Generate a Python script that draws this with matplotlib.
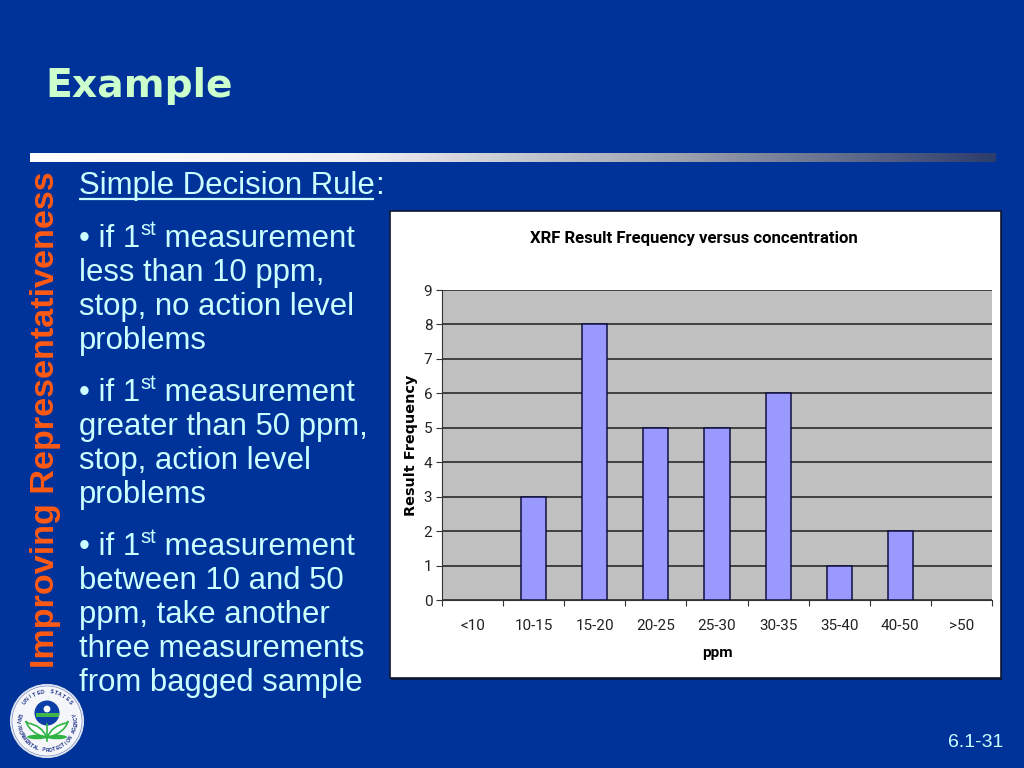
"""plot.py - slide with XRF result frequency bar chart."""

import numpy as np
import matplotlib
matplotlib.use("Agg")
import matplotlib.pyplot as plt
from matplotlib.colors import LinearSegmentedColormap
from matplotlib.patches import Circle, Ellipse, Rectangle, PathPatch
from matplotlib.path import Path

# ── chart data ─────────────────────────────────────────────────────────────────
categories = ["<10", "10-15", "15-20", "20-25", "25-30", "30-35", "35-40", "40-50", ">50"]
frequency = [0, 3, 8, 5, 5, 6, 1, 2, 0]
y_ticks = list(range(10))

chart_title = "XRF Result Frequency versus concentration"
x_label = "ppm"
y_label = "Result Frequency"

# ── slide text: (x, baseline y, runs), a run is (text, is_superscript) ─────────
slide_title = "Example"
side_title = "Improving Representativeness"
footer = "6.1-31"
body_lines = [
    (79, 194, [("Simple Decision Rule", False), (":", False)]),
    (79, 247, [("• if 1", False), ("st", True), (" measurement", False)]),
    (79, 281, [("less than 10 ppm,", False)]),
    (79, 315, [("stop, no action level", False)]),
    (79, 349, [("problems", False)]),
    (79, 401, [("• if 1", False), ("st", True), (" measurement", False)]),
    (79, 435, [("greater than 50 ppm,", False)]),
    (79, 469, [("stop, action level", False)]),
    (79, 503, [("problems", False)]),
    (79, 555, [("• if 1", False), ("st", True), (" measurement", False)]),
    (79, 589, [("between 10 and 50", False)]),
    (79, 623, [("ppm, take another", False)]),
    (79, 657, [("three measurements", False)]),
    (79, 691, [("from bagged sample", False)]),
]

BG = "#003399"
BODY = "#CCFFFF"
SANS = ["Liberation Sans", "DejaVu Sans"]
CHART_FONT = ["Roboto", "Liberation Sans", "DejaVu Sans"]

W, H = 1024, 768


def px_axes(fig, left, top, right, bottom, **kw):
    """Axes placed by pixel box, y measured from the top of the figure."""
    return fig.add_axes([left / W, 1 - bottom / H, (right - left) / W, (bottom - top) / H], **kw)


def draw_runs(slide, fig, x, y, runs):
    renderer = fig.canvas.get_renderer()
    for text, sup in runs:
        size = 14.5 if sup else 22.4
        base = y - 12 if sup else y
        t = slide.text(x, base, text, color=BODY, fontsize=size, family=SANS, va="baseline")
        # nbsp so the measured width keeps the leading space
        adv = renderer.get_text_width_height_descent(
            text.replace(" ", "\u00a0"), t.get_fontproperties(), False)[0]
        x += adv
    return x


def draw_logo(slide, cx, cy, r):
    slide.add_patch(Circle((cx, cy), r, fc="#F4F6FA", ec="#DDE3F0", lw=0.8, zorder=3))
    slide.add_patch(Circle((cx, cy), r * 0.96, fc="none", ec="#5D6FB0", lw=0.4, zorder=3))
    # globe
    slide.add_patch(Circle((cx, cy - 8), 12.5, fc="#0A3FA8", ec="none", zorder=4))
    slide.add_patch(Rectangle((cx - 11.5, cy - 8), 23, 3.5, fc="#3FB54A", ec="none", zorder=5))
    slide.add_patch(Circle((cx, cy - 12), 3.4, fc="white", ec="none", zorder=6))
    # stem and leaves
    slide.plot([cx, cx], [cy + 3, cy + 20], color="#2FB344", lw=1.2, zorder=5)
    for sgn in (-1, 1):
        leaf = Path([(cx, cy + 17), (cx + sgn * 5, cy + 4), (cx + sgn * 20, cy + 2),
                     (cx + sgn * 21, cy + 0), (cx + sgn * 18, cy + 12), (cx, cy + 17)],
                    [Path.MOVETO, Path.CURVE3, Path.CURVE3, Path.LINETO, Path.CURVE3, Path.CURVE3])
        slide.add_patch(PathPatch(leaf, fc="white", ec="#2FB344", lw=1.2, zorder=5))
        slide.add_patch(Ellipse((cx + sgn * 10, cy + 16), 20, 4.5, fc="#2FB344", ec="none", zorder=5))
    # lettering round the rim
    top_text = "UNITED STATES"
    for i, ch in enumerate(top_text):
        a = 90 + (len(top_text) / 2 - i - 0.5) * 8.5
        slide.text(cx + 0.8 * r * np.cos(np.deg2rad(a)), cy - 0.8 * r * np.sin(np.deg2rad(a)), ch,
                   fontsize=3.8, family=SANS, weight="bold", color="#1B2F86",
                   ha="center", va="center", rotation=a - 90, zorder=6)
    low_text = "ENVIRONMENTAL PROTECTION AGENCY"
    for i, ch in enumerate(low_text):
        a = 270 + (i - len(low_text) / 2 + 0.5) * 6.8
        slide.text(cx + 0.8 * r * np.cos(np.deg2rad(a)), cy - 0.8 * r * np.sin(np.deg2rad(a)), ch,
                   fontsize=3.5, family=SANS, weight="bold", color="#1B2F86",
                   ha="center", va="center", rotation=a + 90, zorder=6)


fig = plt.figure(figsize=(10.24, 7.68), dpi=100, facecolor=BG)

# ── slide layer, in pixel coordinates ──────────────────────────────────────────
slide = fig.add_axes([0, 0, 1, 1])
slide.set_xlim(0, W)
slide.set_ylim(H, 0)
slide.axis("off")

slide.text(45, 97, slide_title, color="#CCFFCC", fontsize=28.3, weight="bold",
           family=["DejaVu Sans"], va="baseline")

# rule under the title fades from white to slide blue
rule = LinearSegmentedColormap.from_list("rule", ["#FFFFFF", "#F0F0F4", "#A0A4B0", "#2C3C6C"])
slide.imshow(np.linspace(0, 1, 256).reshape(1, -1), cmap=rule, aspect="auto",
             extent=(30, 996, 162, 153), zorder=1)
slide.set_xlim(0, W)
slide.set_ylim(H, 0)

slide.text(46, 420, side_title, color="#FF5A14", fontsize=24.6, weight="bold", family=SANS,
           rotation=90, ha="center", va="center")

for x0, y0, runs in body_lines:
    draw_runs(slide, fig, x0, y0, runs)
slide.plot([79, 374], [199, 199], color=BODY, lw=1.6, solid_capstyle="butt")

slide.text(1003, 747, footer, color=BODY, fontsize=14, family=SANS, ha="right", va="baseline")

draw_logo(slide, 47, 721, 36.5)

# chart panel with its drop shadow
slide.add_patch(Rectangle((391, 212), 611, 468, fc="#0A1A3C", ec="none", zorder=2))
slide.add_patch(Rectangle((389.5, 210.5), 611, 467, fc="white", ec="#101830", lw=1.2, zorder=3))

# ── bar chart ──────────────────────────────────────────────────────────────────
ax = px_axes(fig, 442, 290, 992, 600, facecolor="#C0C0C0", zorder=4)
x = np.arange(len(categories))
heights = np.array(frequency)
# empty classes get no bar, not even an outline on the baseline
ax.bar(x[heights > 0], heights[heights > 0], width=0.41, color="#9999FF",
       edgecolor="#101040", linewidth=1.1, zorder=3)
ax.set_xlim(-0.5, len(categories) - 0.5)
ax.set_ylim(0, 9)

ax.set_yticks(y_ticks)
ax.yaxis.grid(True, color="#2A2A2A", linewidth=1.2, zorder=1)
ax.set_axisbelow(True)
ax.tick_params(axis="y", length=4, width=0.8, color="#333333", pad=3, labelsize=11, labelcolor="#222222")

# ticks sit between the categories, labels under the bars
ax.set_xticks(np.arange(len(categories) + 1) - 0.5)
ax.set_xticklabels([])
ax.tick_params(axis="x", length=4, width=0.8, color="#333333")
ax.set_xticks(x, minor=True)
ax.set_xticklabels(categories, minor=True)
ax.tick_params(axis="x", which="minor", length=0, pad=14, labelsize=11, labelcolor="#222222")
for lab in ax.get_xticklabels(minor=True) + ax.get_yticklabels():
    lab.set_family(CHART_FONT)

for side in ("top", "right"):
    ax.spines[side].set_visible(False)
for side in ("left", "bottom"):
    ax.spines[side].set_color("#333333")
    ax.spines[side].set_linewidth(0.8)

over = fig.add_axes([0, 0, 1, 1], zorder=5)
over.set_xlim(0, W)
over.set_ylim(H, 0)
over.axis("off")
over.text(694, 238, chart_title, fontsize=12.1, weight="bold", family=CHART_FONT,
          color="black", ha="center", va="center")
over.text(717, 653, x_label, fontsize=11, weight="bold", family=CHART_FONT,
          color="black", ha="center", va="center")
over.text(411, 445, y_label, fontsize=10.4, weight="bold", family=["DejaVu Sans"],
          color="black", ha="center", va="center", rotation=90)

fig.savefig("out.png", dpi=100, facecolor=BG)
